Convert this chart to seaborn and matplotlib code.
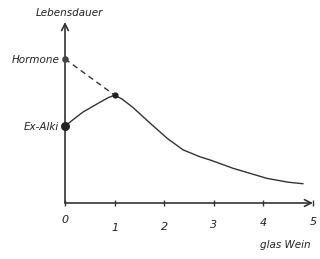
import matplotlib
matplotlib.use("Agg")
import matplotlib.pyplot as plt
import matplotlib.transforms as mtransforms
import seaborn as sns
import pandas as pd

sns.set_theme(style="white")
plt.rcParams['font.family'] = ['DejaVu Sans']

# Data
glas = [0.0, 0.36, 0.71, 0.88, 1.0, 1.15, 1.37, 1.71, 2.06, 2.38, 2.72, 2.92, 3.39, 4.07, 4.5, 4.80]
lebensdauer = [1.0, 1.18, 1.31, 1.37, 1.40, 1.35, 1.24, 1.04, 0.84, 0.69, 0.60, 0.56, 0.45, 0.32, 0.27, 0.25]
hormone_x = [0.0, 1.0]
hormone_y = [1.87, 1.40]
x_ticks = [0, 1, 2, 3, 4, 5]
x_labels = ["0", "1", "2", "3", "4", "5"]
y_ticks = [1.0, 1.87]
y_labels = ["Ex-Alki", "Hormone"]

df = pd.DataFrame({"glas": glas, "dauer": lebensdauer})
dh = pd.DataFrame({"glas": hormone_x, "dauer": hormone_y})

fig = plt.figure(figsize=(3.2, 2.59), dpi=100)
ax = fig.add_axes([65/320, 1-203/259, 248/320, 181/259])
col = "#333333"

sns.lineplot(data=df, x="glas", y="dauer", ax=ax, color=col, lw=1.0)
sns.lineplot(data=dh, x="glas", y="dauer", ax=ax, color=col, lw=1.0, linestyle=(0, (4, 3)))
ax.scatter([0], [lebensdauer[0]], s=30, color="#222222", zorder=5, clip_on=False)
ax.scatter([0], [hormone_y[0]], s=14, color="#444444", zorder=5, clip_on=False)
ax.scatter([1], [hormone_y[1]], s=12, color="#222222", zorder=5, clip_on=False)

ax.set_xlim(0, 5)
ax.set_ylim(0, 2.35)
for s in ax.spines.values():
    s.set_visible(False)
ax.annotate('', xy=(1.0, 0), xytext=(0, 0), xycoords='axes fraction',
            arrowprops=dict(arrowstyle='->', color=col, lw=1.2, shrinkA=0, shrinkB=0))
ax.annotate('', xy=(0, 1.0), xytext=(0, 0), xycoords='axes fraction',
            arrowprops=dict(arrowstyle='->', color=col, lw=1.2, shrinkA=0, shrinkB=0))

ax.set_xticks(x_ticks)
ax.set_xticklabels(x_labels, fontsize=8, style='italic', color="#222222")
ax.tick_params(axis='x', direction='inout', length=5, width=1, color=col, pad=10, bottom=True)
ax.set_yticks(y_ticks)
ax.set_yticklabels(y_labels, fontsize=7.5, style='italic', color="#222222")
ax.tick_params(axis='y', length=0, pad=4, left=True)
ax.set_xlabel("")
ax.set_ylabel("")
ax.grid(False)

# hand-drawn look: labels not on one baseline
offsets_px = [5, -3, -2, 0, 2, 3]
for lab, dy in zip(ax.get_xticklabels(), offsets_px):
    lab.set_transform(lab.get_transform() + mtransforms.ScaledTranslation(0, dy/100, fig.dpi_scale_trans))

fig.text(69/320, 1-13/259, "Lebensdauer", ha='center', va='center', fontsize=7.5, style='italic', color="#222222")
fig.text(285/320, 1-245/259, "glas Wein", ha='center', va='center', fontsize=7.5, style='italic', color="#222222")

fig.savefig("out.png", dpi=100, facecolor="white")
